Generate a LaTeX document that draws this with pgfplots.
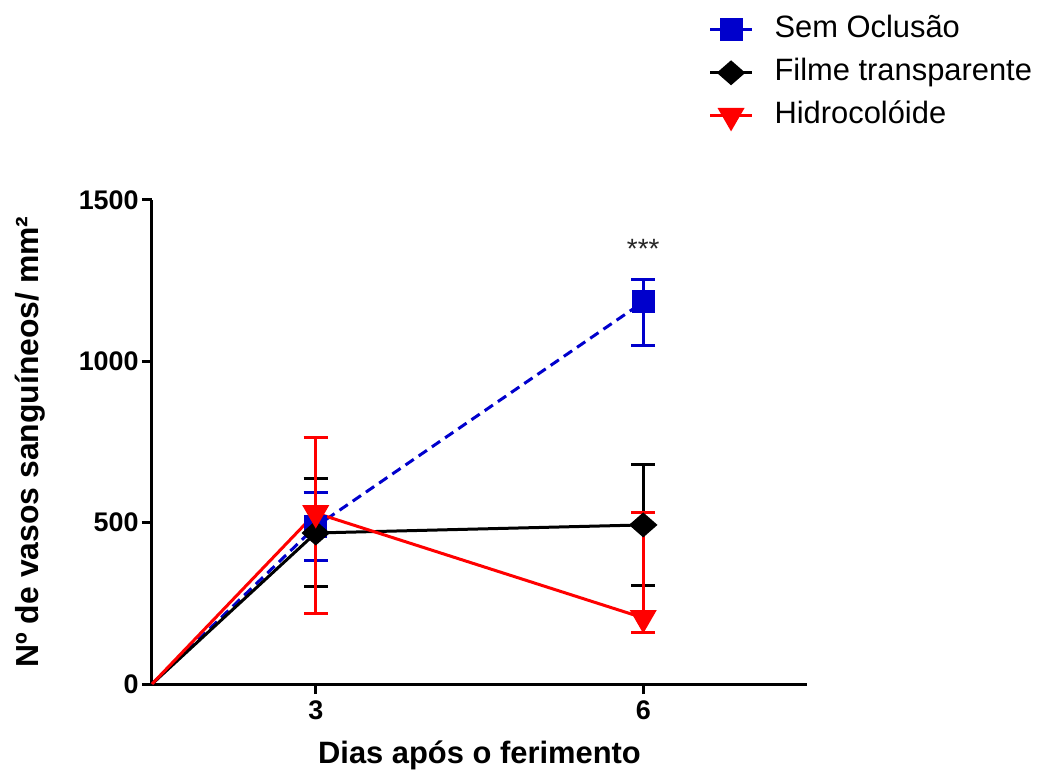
\documentclass[border=0pt]{standalone}
\usepackage{pgfplots}
\pgfplotsset{compat=1.18}
\usepackage{fontspec}
\setmainfont{Liberation Sans}
\definecolor{sblue}{RGB}{0,0,204}
\definecolor{sred}{RGB}{255,0,0}
\begin{document}
\begin{tikzpicture}
\path[use as bounding box] (-76bp,-44.5bp) rectangle (447bp,342bp);
\begin{axis}[
 at={(0,0)}, anchor=south west,
 scale only axis, width=327.5bp, height=242bp,
 xmin=1.5, xmax=7.5, ymin=0, ymax=1500,
 axis x line*=bottom, axis y line*=left,
 axis line style={line width=1.5bp, -},
 xtick={3,6}, ytick={0,500,1000,1500},
 tick style={line width=1.5bp, black},
 major tick length=5bp,
 tick align=outside,
 /pgf/number format/assume math mode=true,
 /pgf/number format/1000 sep={},
 ticklabel style={font=\fontsize{13.5}{16}\selectfont\bfseries},
 yticklabel style={inner xsep=1.5bp},
 xlabel={Dias após o ferimento},
 ylabel={Nº de vasos sanguíneos/ mm²},
 xlabel style={font=\fontsize{15.5}{18}\selectfont\bfseries, at={(axis description cs:0.5,-0.1467)}, anchor=center},
 ylabel style={font=\fontsize{16}{18}\selectfont\bfseries, at={(axis description cs:-0.1863,0.5)}, anchor=center},
 legend style={draw=none, fill=none, at={(0.840,1.400)}, anchor=north west,
   font=\fontsize{15.5}{18}\selectfont, row sep=2.5bp,
   nodes={inner sep=2bp, text height=11.5bp, text depth=3.5bp},
   /tikz/every odd column/.style={column sep=8.5bp}},
 legend cell align=left,
 legend image code/.code={\draw[#1, mark indices={2}] plot coordinates {(0bp,0bp) (10.5bp,0bp) (21bp,0bp)};},
 clip=false,
]
% Sem Oclusao
\addplot[sblue, line width=1.5bp, dash pattern=on 5bp off 3bp, mark=square*, mark size=5bp, mark options={solid}, mark indices={2,3}]
 coordinates {(1.5,0) (3,488) (6,1184)};
\addlegendentry{Sem Oclusão}
\addplot[forget plot, draw=none, mark=none,
 error bars/.cd, y dir=both, y explicit,
 error bar style={draw=sblue, solid, line width=1.5bp},
 error mark options={draw=sblue, solid, line width=1.5bp, mark size=6bp, rotate=90}]
 coordinates {(3,488) += (0,104) -= (0,104) (6,1184) += (0,71) -= (0,134)};
% Filme transparente
\addplot[black, line width=1.5bp, mark=diamond*, mark size=5.25bp, mark options={xscale=1.52}, mark indices={2,3}]
 coordinates {(1.5,0) (3,468) (6,493)};
\addlegendentry{Filme transparente}
\addplot[forget plot, draw=none, mark=none,
 error bars/.cd, y dir=both, y explicit,
 error bar style={draw=black, solid, line width=1.5bp},
 error mark options={draw=black, solid, line width=1.5bp, mark size=6bp, rotate=90}]
 coordinates {(3,468) += (0,170) -= (0,167) (6,493) += (0,186) -= (0,189)};
% Hidrocoloide
\addplot[sred, line width=1.5bp, mark=triangle*, mark size=6.3bp, mark options={rotate=180}, mark indices={2,3}]
 coordinates {(1.5,0) (3,530) (6,205)};
\addlegendentry{Hidrocolóide}
\addplot[forget plot, draw=none, mark=none,
 error bars/.cd, y dir=both, y explicit,
 error bar style={draw=sred, solid, line width=1.5bp},
 error mark options={draw=sred, solid, line width=1.5bp, mark size=6bp, rotate=90}]
 coordinates {(3,530) += (0,233) -= (0,310) (6,205) += (0,328) -= (0,44)};
\node[font=\fontsize{14}{16}\selectfont, text=black!85, anchor=base] at (axis cs:6,1320) {***};
\end{axis}
\end{tikzpicture}
\end{document}
